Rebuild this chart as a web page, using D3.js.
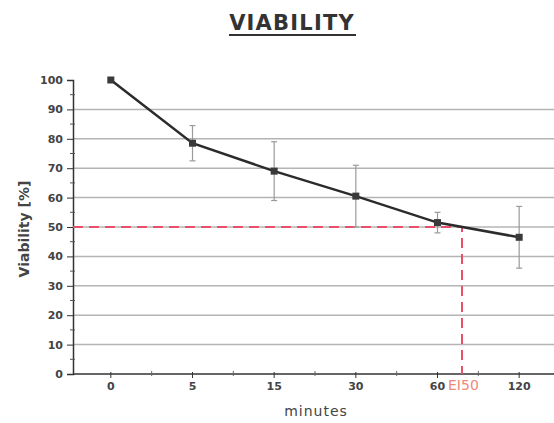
<!DOCTYPE html>
<html>
<head>
<meta charset="utf-8">
<script src="https://cdn.jsdelivr.net/npm/d3@7"></script>
<style>
  body { margin: 0; background: #fff; }
  svg { display: block; }
</style>
</head>
<body>
<svg width="554" height="423"></svg>
<script>
const minutes   = ['0', '5', '15', '30', '60', '120'];
const viability = [100, 78.5, 69, 60.5, 51.5, 46.5];
const errors    = [0, 6, 10, 10.5, 3.5, 10.5];
const yTicks    = [0, 10, 20, 30, 40, 50, 60, 70, 80, 90, 100];
const ec50      = { value: 50, pos: 4.3, label: 'EI50' };   // pos = position between categories 60 and 120

const svg = d3.select('svg');
const width  = +svg.attr('width');
const height = +svg.attr('height');

const margin = { left: 73, right: 0, top: 80, bottom: 49 };

const xScale = d3.scaleBand()
  .domain(minutes)
  .range([70, 560])
  .paddingInner(0)
  .paddingOuter(0);
const xCenter = d => xScale(d) + xScale.bandwidth() / 2;

const yScale = d3.scaleLinear()
  .domain([0, 100])
  .range([height - margin.bottom, margin.top]);

const fontTicks = 'DejaVu Sans, sans-serif';

// gridlines
svg.append('g')
  .selectAll('line')
  .data(yTicks.filter(t => t > 0 && t < 100))
  .enter().append('line')
    .attr('x1', margin.left)
    .attr('x2', width)
    .attr('y1', d => yScale(d))
    .attr('y2', d => yScale(d))
    .attr('stroke', '#b4b4b4')
    .attr('stroke-width', 1.5);

// y axis
const yAxis = d3.axisLeft(yScale).tickValues(yTicks).tickSize(6).tickPadding(4);
const yAxisG = svg.append('g')
  .attr('transform', `translate(${margin.left},0)`)
  .call(yAxis);
yAxisG.select('.domain').attr('stroke', '#333').attr('stroke-width', 1.5);
yAxisG.selectAll('.tick line').attr('stroke', '#333');
yAxisG.selectAll('.tick text')
  .style('font-family', fontTicks)
  .style('font-size', '11px')
  .style('font-weight', 'bold')
  .attr('fill', '#444');

// y minor ticks
svg.append('g')
  .selectAll('line')
  .data(d3.range(5, 100, 10))
  .enter().append('line')
    .attr('x1', margin.left - 3)
    .attr('x2', margin.left + 2)
    .attr('y1', d => yScale(d))
    .attr('y2', d => yScale(d))
    .attr('stroke', '#555');

// x axis
const xAxis = d3.axisBottom(xScale).tickSize(4).tickPadding(4);
const xAxisG = svg.append('g')
  .attr('transform', `translate(0,${yScale(0)})`)
  .call(xAxis);
xAxisG.select('.domain').remove();
xAxisG.append('line')
  .attr('x1', margin.left).attr('x2', width)
  .attr('stroke', '#333').attr('stroke-width', 1.5);
xAxisG.selectAll('.tick line').attr('stroke', '#333').attr('y1', -2);
xAxisG.selectAll('.tick text')
  .style('font-family', fontTicks)
  .style('font-size', '11px')
  .style('font-weight', 'bold')
  .attr('fill', '#444');

// x minor ticks at band edges
svg.append('g')
  .selectAll('line')
  .data(minutes.slice(1))
  .enter().append('line')
    .attr('x1', d => xScale(d))
    .attr('x2', d => xScale(d))
    .attr('y1', yScale(0) - 3)
    .attr('y2', yScale(0) + 2)
    .attr('stroke', '#666');

// EC50 dashed lines
const ecX = xCenter('60') + (ec50.pos - 4) * xScale.bandwidth();
svg.append('path')
  .attr('d', `M${margin.left},${yScale(ec50.value)}H${ecX}V${yScale(0)}`)
  .attr('fill', 'none')
  .attr('stroke', '#e8506a')
  .attr('stroke-width', 2)
  .attr('stroke-dasharray', '10,6');

svg.append('text')
  .attr('x', ecX - 14)
  .attr('y', yScale(0) + 16)
  .style('font-family', fontTicks)
  .style('font-size', '14px')
  .attr('fill', '#f08878')
  .text(ec50.label);

// error bars
const points = minutes.map((m, i) => ({ m, v: viability[i], e: errors[i] }));
const eb = svg.append('g').attr('stroke', '#9a9a9a').attr('stroke-width', 1.2);
points.filter(d => d.e > 0).forEach(d => {
  const x = xCenter(d.m);
  eb.append('line').attr('x1', x).attr('x2', x)
    .attr('y1', yScale(d.v + d.e)).attr('y2', yScale(d.v - d.e));
  [d.v + d.e, d.v - d.e].forEach(v => {
    eb.append('line').attr('x1', x - 3).attr('x2', x + 3)
      .attr('y1', yScale(v)).attr('y2', yScale(v));
  });
});

// line
const line = d3.line()
  .x(d => xCenter(d.m))
  .y(d => yScale(d.v));
svg.append('path')
  .datum(points)
  .attr('d', line)
  .attr('fill', 'none')
  .attr('stroke', '#2b2b2b')
  .attr('stroke-width', 2.5);

// markers
svg.append('g')
  .selectAll('rect')
  .data(points)
  .enter().append('rect')
    .attr('x', d => xCenter(d.m) - 3.5)
    .attr('y', d => yScale(d.v) - 3.5)
    .attr('width', 7)
    .attr('height', 7)
    .attr('fill', '#3a3a3a');

// title
const title = svg.append('text')
  .attr('x', 292)
  .attr('y', 30)
  .attr('text-anchor', 'middle')
  .style('font-family', fontTicks)
  .style('font-size', '21px')
  .style('font-weight', 'bold')
  .style('letter-spacing', '1.2px')
  .attr('fill', '#333')
  .text('VIABILITY');
svg.append('line')
  .attr('x1', 229).attr('x2', 356)
  .attr('y1', 35).attr('y2', 35)
  .attr('stroke', '#333').attr('stroke-width', 2);

// axis labels
svg.append('text')
  .attr('text-anchor', 'middle')
  .attr('transform', `translate(29,${229}) rotate(-90)`)
  .style('font-family', fontTicks)
  .style('font-size', '14px')
  .style('font-weight', 'bold')
  .attr('fill', '#444')
  .text('Viability [%]');

svg.append('text')
  .attr('x', 316)
  .attr('y', 416)
  .attr('text-anchor', 'middle')
  .style('font-family', fontTicks)
  .style('font-size', '14px')
  .style('letter-spacing', '1px')
  .attr('fill', '#444')
  .text('minutes');
</script>
</body>
</html>
